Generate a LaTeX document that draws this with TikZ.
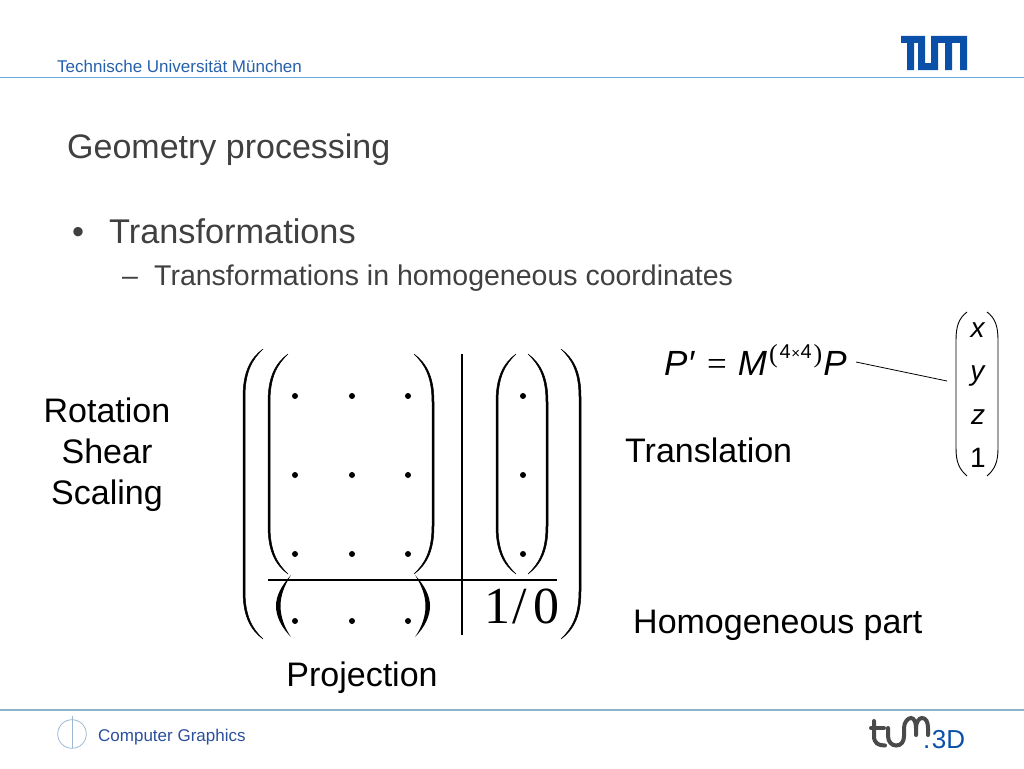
\documentclass[tikz,border=0pt]{standalone}
\usepackage{fontspec}
\setmainfont{Liberation Sans}
\newfontfamily\serifone{Liberation Serif}
\usepackage{tikz}
\definecolor{headblue}{HTML}{2560AC}
\definecolor{chairblue}{HTML}{2A4F9C}
\definecolor{rulecol}{HTML}{6AA8E0}
\definecolor{footrule}{HTML}{8FB2CC}
\definecolor{ringcol}{HTML}{9DB9D4}
\definecolor{logoblue}{HTML}{0A50A8}
\definecolor{logogray}{HTML}{4A4A4A}
\definecolor{titlegray}{HTML}{404040}
\newcommand\fsz[1]{\fontsize{#1}{#1}\selectfont}
% big parenthesis: x of spine, x of tip, top, bottom
\newcommand\parn[4]{\filldraw[brace] (#2,#3) .. controls (#1+.4*#2-.4*#1,#3+9) and (#1,#3+22) .. (#1,#3+48) -- (#1,#4-48) .. controls (#1,#4-22) and (#1+.4*#2-.4*#1,#4-9) .. (#2,#4) .. controls (#1+.48*#2-.48*#1,#4-10) and (#1+.1*#2-.1*#1,#4-22) .. (#1+.1*#2-.1*#1,#4-48) -- (#1+.1*#2-.1*#1,#3+48) .. controls (#1+.1*#2-.1*#1,#3+22) and (#1+.48*#2-.48*#1,#3+10) .. cycle;}
\tikzset{
  brace/.style={line width=.5pt,fill=black},
  smallbrace/.style={line width=.9pt},
  labeltext/.style={font=\fsz{34},anchor=base,inner sep=0pt},
  entry/.style={circle,fill=black,inner sep=0pt,minimum size=6pt},
  slide/.style={font=\fsz{34},text=titlegray,anchor=base west,inner sep=0pt},
  foot/.style={font=\fsz{17},anchor=base west,inner sep=0pt},
  vec/.style={font=\fsz{28},anchor=base,inner sep=0pt},
  logostroke/.style={logogray,line width=4pt,line cap=round}
}
\begin{document}
\begin{tikzpicture}[x=1pt,y=-1pt]
	\useasboundingbox (0,0) rectangle (1024,768);
	% header and footer
	\node[foot,text=headblue] (uni) at (57,72) {Technische Universität München};
	\draw[rulecol,line width=1.2pt] (0,77.5) -- (1024,77.5);
	\draw[footrule,line width=1.3pt] (0,710) -- (1024,710);
	\node[foot,text=chairblue] (chair) at (98,741) {Computer Graphics};
	\draw[ringcol,line width=.8pt] (72,734) circle (14.3);
	\draw[ringcol,line width=.8pt] (72,716) -- (72,748);
	\fill[logoblue] (901,36) -- (925,36) -- (925,63) -- (931,63) -- (931,36) -- (967,36) -- (967,70) -- (960,70) -- (960,43) -- (952,43) -- (952,70) -- (945,70) -- (945,43) -- (938,43) -- (938,70) -- (918,70) -- (918,43) -- (914,43) -- (914,70) -- (907,70) -- (907,43) -- (901,43) -- cycle;
	\draw[logostroke] (874,721) -- (874,736) .. controls (874,743) and (878,745.5) .. (885,745.5);
	\draw[logostroke] (871,728) -- (884,728);
	\draw[logostroke] (888,728) -- (888,736) .. controls (888,742) and (892,745.5) .. (896,745.5) .. controls (901,745.5) and (904,742) .. (904,736) -- (904,728) .. controls (904,722) and (908,718) .. (911,718) .. controls (914,718) and (916,722) .. (916,728) -- (916,735);
	\draw[logostroke] (916,728) .. controls (916,722) and (919,718) .. (922,718) .. controls (926,718) and (928,722) .. (928,728) -- (928,735);
	\node[foot,font=\fsz{26},text=logoblue] (tumd) at (923,748) {.\kern1.5pt 3D};
	% title and bullets
	\node[slide] (title) at (67,158) {Geometry processing};
	\node[slide,font=\fsz{34.3}] (bul) at (72,243) {•};
	\node[slide,font=\fsz{34.3}] (trafo) at (109,243) {Transformations};
	\node[slide,font=\fsz{28.5}] (dash) at (122,285) {–};
	\node[slide,font=\fsz{28.5}] (hom) at (154,285) {Transformations in homogeneous coordinates};
	% matrix
	\foreach \col/\xx in {1/295,2/352,3/408}{
		\foreach \row/\yy in {1/396,2/475,3/554,4/621}
			\node[entry] (m-\row-\col) at (\xx,\yy) {};
	}
	\foreach \row/\yy in {1/396,2/475,3/554}
		\node[entry] (m-\row-4) at (523,\yy) {};
	\node[font=\serifone\fsz{52},anchor=base,inner sep=0pt] (m-4-4) at (522,623) {1\kern2pt/\kern6pt 0};
	\parn{243}{263}{349}{639}
	\parn{581}{561}{349}{639}
	\parn{268}{288}{354}{574}
	\parn{434}{414}{354}{574}
	\parn{496}{516}{354}{574}
	\parn{548}{528}{354}{574}
	\fill (291,575) .. controls (281,586) and (276,596) .. (276,606) .. controls (276,616) and (281,627) .. (291,637) .. controls (284,627) and (280.5,616) .. (280.5,606) .. controls (280.5,596) and (284,586) .. cycle;
	\fill (415,575) .. controls (425,586) and (430,596) .. (430,606) .. controls (430,616) and (425,627) .. (415,637) .. controls (422,627) and (425.5,616) .. (425.5,606) .. controls (425.5,596) and (422,586) .. cycle;
	\draw[line width=2pt] (462,354) -- (462,635);
	\draw[line width=2pt] (268,580) -- (557,580);
	% labels
	\node[labeltext] (rot) at (107,422) {Rotation};
	\node[labeltext] (shear) at (107,463) {Shear};
	\node[labeltext] (scal) at (107,504) {Scaling};
	\node[labeltext,anchor=base west] (trans) at (625,462) {Translation};
	\node[labeltext,anchor=base west] (homp) at (633,633) {Homogeneous part};
	\node[labeltext] (proj) at (362,686) {Projection};
	% formula
	\node[font=\fsz{35},anchor=base west,inner sep=0pt] (form) at (664,375) {\textit{P}\textit{′}\kern12pt{\serifone =}\kern11pt\textit{M}\kern2pt\raisebox{13pt}{\serifone\fsz{26}(}\kern2pt\raisebox{17pt}{\fsz{20}4\kern.5pt{\fsz{15}×}\kern.5pt 4}\kern2pt\raisebox{13pt}{\serifone\fsz{26})}\kern1pt\textit{P}};
	\coordinate (ptend) at (856,362);
	\coordinate (vecend) at (947,381);
	\draw[line width=.8pt] (ptend) -- (vecend);
	\node[vec] (vx) at (978,337) {\textit{x}};
	\node[vec] (vy) at (978,380) {\textit{y}};
	\node[vec] (vz) at (978,424) {\textit{z}};
	\node[vec] (v1) at (978,467) {1};
	\draw[smallbrace] (967,312) .. controls (959,318) and (956,326) .. (956,340) -- (956,448) .. controls (956,462) and (959,469) .. (967,476);
	\draw[smallbrace] (987,312) .. controls (995,318) and (998,326) .. (998,340) -- (998,448) .. controls (998,462) and (995,469) .. (987,476);
\end{tikzpicture}
\end{document}
